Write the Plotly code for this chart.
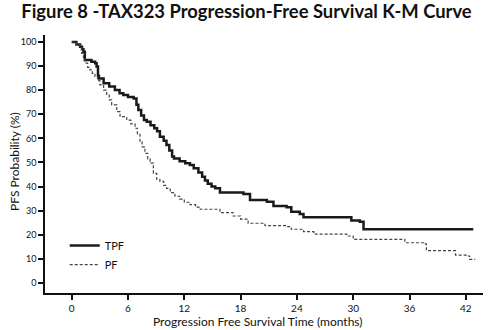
import plotly.graph_objects as go

# Kaplan-Meier progression-free survival estimates (months, percent)
tpf_months = [0, 0.5, 0.9, 1.1, 1.25, 1.4, 2.1, 2.5, 2.65, 2.8, 2.9, 3.4, 4.0, 4.6, 5.1,
              5.5, 6.0, 6.6, 6.9, 7.1, 7.4, 7.7, 8.0, 8.4, 8.8, 9.1, 9.4, 9.8, 10.1,
              10.4, 10.7, 10.9, 11.5, 12.1, 12.6, 13.0, 13.5, 13.9, 14.2, 14.5, 14.9,
              15.3, 15.8, 18.3, 19.0, 20.8, 21.5, 22.9, 23.4, 24.3, 24.7, 29.8, 30.7,
              31.1, 42.8]
tpf_pfs = [100, 99, 98, 97, 96, 92.5, 91.8, 91.2, 89.8, 86, 84.9, 82.9, 81.5, 80.1, 78.7,
           78, 77.2, 76.6, 74, 71.8, 69.5, 67.6, 66.9, 65.5, 64.2, 63, 60.7, 59, 57.3,
           55, 52.5, 51.7, 50.5, 49.7, 49, 47.6, 45.8, 44.1, 42.5, 41.2, 40,
           39.3, 37.5, 36.9, 34.4, 33.7, 32, 31.4, 29.6, 28.6, 27.3, 25.9, 25.4,
           22.3, 22.3]

pf_months = [0, 0.5, 0.9, 1.06, 1.25, 1.42, 1.7, 1.95, 2.2, 2.48, 2.75, 3.0, 3.4, 3.73,
             4.0, 4.26, 4.8, 5.15, 5.86, 6.3, 6.75, 7.0, 7.28, 7.5, 7.8, 8.1, 8.35, 8.7,
             9.06, 9.4, 9.8, 10.1, 10.5, 11.0, 11.5, 12.0, 12.6, 13.2, 13.7, 15.8, 17.2,
             18.0, 18.8, 20.6, 22.9, 23.4, 24.7, 25.8, 29.3, 30.0, 35.5, 37.5, 37.8,
             40.9, 42.1, 42.4, 43.0]
pf_pfs = [100, 99, 98, 95.3, 93, 91.2, 89.5, 88.4, 87, 85.6, 84, 82.2, 80, 78,
          76, 73.9, 71.1, 69, 67.6, 66, 64.2, 62, 58.6, 56.5, 53.8, 51.5, 49.7, 45.5,
          43, 42.2, 40.5, 39.3, 37.5, 36, 34.8, 33.5, 32.5, 31.5, 30.6, 29.2, 27.8,
          26.5, 24.8, 23.8, 23.4, 22.3, 21.3, 20.3, 19.5, 18.1, 16.7, 16.2, 13.4,
          11.6, 11.2, 9.8, 9.8]

x_ticks = [0, 6, 12, 18, 24, 30, 36, 42]
y_ticks = [0, 10, 20, 30, 40, 50, 60, 70, 80, 90, 100]

font = "Lato"
ink = "#111111"

fig = go.Figure()
fig.add_trace(go.Scatter(
    x=tpf_months, y=tpf_pfs, name="TPF", mode="lines",
    line=dict(color="#1a1a1a", width=2.5, shape="hv"),
))
fig.add_trace(go.Scatter(
    x=pf_months, y=pf_pfs, name="PF", mode="lines",
    line=dict(color="#444444", width=1.2, shape="hv", dash="3px,2px"),
))

fig.update_layout(
    width=493, height=330,
    margin=dict(l=45, r=10, t=35, b=37),
    paper_bgcolor="white", plot_bgcolor="white",
    title=dict(
        text="<b>Figure 8 -TAX323 Progression-Free Survival K-M Curve</b>",
        x=0.5, xanchor="center", y=0.985, yanchor="top",
        font=dict(family=font, size=18.4, color=ink),
    ),
    showlegend=True,
    legend=dict(
        x=0.045, y=0.24, xanchor="left", yanchor="top",
        bgcolor="rgba(0,0,0,0)", font=dict(family=font, size=11, color=ink),
        tracegroupgap=0,
    ),
    font=dict(family=font, size=10, color=ink),
    annotations=[
        dict(text="Progression Free Survival Time (months)", xref="paper", yref="paper",
             x=0.486, y=-0.11, xanchor="center", yanchor="middle", showarrow=False,
             font=dict(family=font, size=12, color=ink)),
        dict(text="PFS Probability (%)", xref="paper", yref="paper",
             x=-0.0685, y=0.512, xanchor="center", yanchor="middle", showarrow=False,
             textangle=-90, font=dict(family=font, size=12, color=ink)),
    ],
)

fig.update_xaxes(
    range=[-2.846, 43.83], tickvals=x_ticks, ticktext=[str(v) for v in x_ticks],
    showline=True, linecolor=ink, linewidth=1.5,
    ticks="outside", ticklen=5, tickwidth=1.5, tickcolor=ink,
    showgrid=False, zeroline=False,
    tickfont=dict(family=font, size=10, color=ink),
)
fig.update_yaxes(
    range=[-4.15, 102.9], tickvals=y_ticks, ticktext=[str(v) for v in y_ticks],
    showline=True, linecolor=ink, linewidth=1.5,
    ticks="outside", ticklen=5, tickwidth=1.5, tickcolor=ink,
    showgrid=False, zeroline=False,
    tickfont=dict(family=font, size=9, color=ink),
)

fig.write_html("out.html")
